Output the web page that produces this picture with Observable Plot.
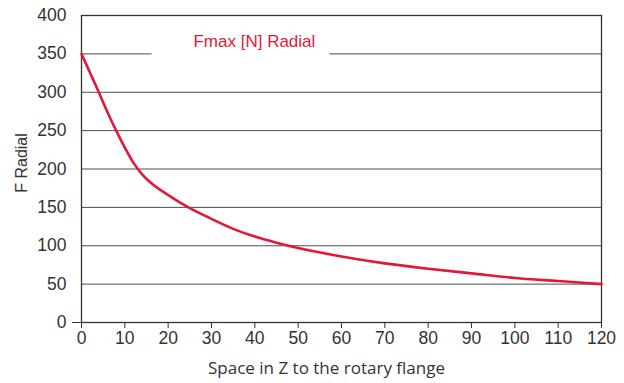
<!DOCTYPE html>
<html>
<head>
<meta charset="utf-8">
<script src="https://cdn.jsdelivr.net/npm/d3@7"></script>
<script src="https://cdn.jsdelivr.net/npm/@observablehq/plot@0.6"></script>
<style>
  html, body { margin: 0; padding: 0; background: #fff; }
  #chart { width: 624px; height: 383px; }
</style>
</head>
<body>
<div id="chart"></div>
<script>
const space = [0, 2, 4, 6, 8, 10, 12, 14, 16, 20, 25, 30, 35, 40, 45, 50, 60, 70, 80, 90, 100, 110, 120];
const force = [350, 325, 300, 274, 250, 228, 208, 193, 182, 166, 149, 135, 122, 112, 104, 97, 86, 77, 70, 64, 58, 54, 50];
const xTicks = [0, 10, 20, 30, 40, 50, 60, 70, 80, 90, 100, 110, 120];
const yTicks = [0, 50, 100, 150, 200, 250, 300, 350, 400];
const gridValues = [50, 100, 150, 200, 250, 300, 350];
const seriesLabel = "Fmax [N] Radial";
const xLabel = "Space in Z to the rotary flange";
const yLabel = "F Radial";

const data = space.map((s, i) => ({space: s, force: force[i]}));
const red = "#e4173a";
const plainFont = "'Liberation Sans', Arial, sans-serif";

const chart = Plot.plot({
  width: 624,
  height: 383,
  marginLeft: 81,
  marginRight: 23,
  marginTop: 15,
  marginBottom: 61,
  style: {fontFamily: plainFont, background: "#fff"},
  x: {domain: [0, 120]},
  y: {domain: [0, 400]},
  marks: [
    Plot.ruleY(gridValues, {stroke: "#4d4d4d", strokeWidth: 1}),
    Plot.rect([seriesLabel], {x1: 16.3, x2: 57.3, y1: 340, y2: 375, fill: "#fff"}),
    Plot.frame({stroke: "#333", strokeWidth: 1.3}),
    Plot.line(data, {x: "space", y: "force", stroke: red, strokeWidth: 2.6, curve: "monotone-x"}),
    Plot.text([seriesLabel], {x: 39.9, y: 366, text: d => d, fill: red, fontSize: 17, fontFamily: plainFont}),
    Plot.axisX(xTicks, {tickSize: 6, tickPadding: 3, fontSize: 17.5, fontFamily: plainFont, fill: "#333", stroke: "#333", label: null}),
    Plot.axisY(yTicks, {tickSize: 0, tickPadding: 15, fontSize: 17.5, fontFamily: plainFont, fill: "#333", label: null}),
    Plot.axisY([0], {tickSize: 9, tickFormat: () => "", stroke: "#333", label: null}),
    Plot.text([xLabel], {frameAnchor: "bottom", dx: -15, dy: 51, text: d => d, fontFamily: "'Open Sans', sans-serif", fontSize: 17, fill: "#333"}),
    Plot.text([yLabel], {frameAnchor: "left", textAnchor: "middle", dx: -60, dy: -6, rotate: -90, text: d => d, fontFamily: plainFont, fontSize: 16, fill: "#333"})
  ]
});
document.getElementById("chart").appendChild(chart);
</script>
</body>
</html>
